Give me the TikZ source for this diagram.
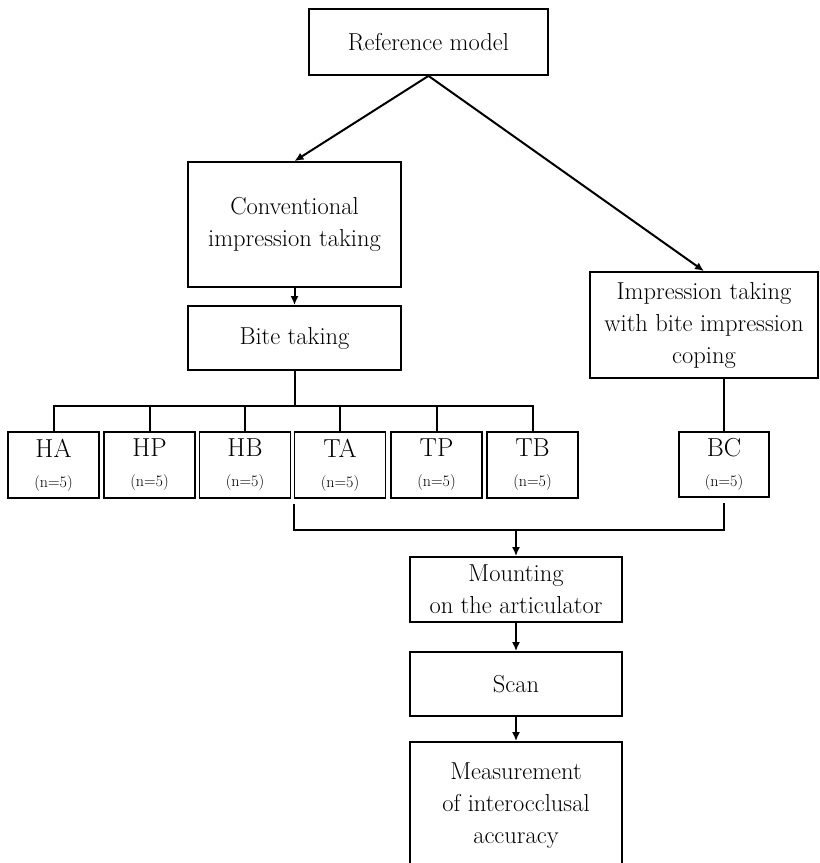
\documentclass[tikz,border=0pt]{standalone}
\usepackage{fontspec}
\usetikzlibrary{arrows.meta}
\begin{document}
\begin{tikzpicture}[x=1pt,y=-1pt,
  box/.style={draw, line width=1.8pt, inner sep=0pt, align=center, font=\fontsize{24.5}{32}\selectfont},
  small/.style={box, minimum width=91, minimum height=66},
  conn/.style={line width=2pt},
  arr/.style={conn, -{Latex[length=9pt,width=8pt]}}]
\useasboundingbox (0,0) rectangle (820,863);
\node[box, minimum width=239, minimum height=66] (ref) at (428.5,42) {Reference model};
\node[box, minimum width=213, minimum height=125] (conv) at (294.5,224.5) {Conventional\\impression taking};
\node[box, minimum width=213, minimum height=64] (bite) at (294.5,338) {Bite taking};
\node[box, minimum width=228, minimum height=106] (imp) at (704,325) {Impression taking\\with bite impression\\coping};
\newcommand{\grp}[1]{\fontsize{26}{28}\selectfont #1\\[-2pt]\fontsize{16}{18}\selectfont (n=5)}
\node[small] (ha) at (53.5,465) {\grp{HA}};
\node[small] (hp) at (149.5,465) {\grp{HP}};
\node[small] (hb) at (245,465) {\grp{HB}};
\node[small] (ta) at (340,465) {\grp{TA}};
\node[small] (tp) at (436.5,465) {\grp{TP}};
\node[small] (tb) at (532.5,465) {\grp{TB}};
\node[small, minimum width=90, minimum height=65] (bc) at (724,464.5) {\grp{BC}};
\node[box, minimum width=212, minimum height=65] (mount) at (516,589.5) {Mounting\\on the articulator};
\node[box, minimum width=212, minimum height=64] (scan) at (516,684) {Scan};
\node[box, minimum width=212, minimum height=128] (meas) at (516,806) {Measurement\\of interocclusal\\accuracy};
% connectors
\draw[arr] (ref.south) -- (conv.north);
\draw[arr] (ref.south) -- (imp.north);
\draw[arr] (conv.south) -- (bite.north);
\coordinate (bar) at (294.5,406);
\draw[conn] (bite.south) -- (bar);
\draw[conn] (ha.north) |- (bar) -| (tb.north);
\draw[conn] (hp.north) -- (hp.north |- bar);
\draw[conn] (hb.north) -- (hb.north |- bar);
\draw[conn] (ta.north) -- (ta.north |- bar);
\draw[conn] (tp.north) -- (tp.north |- bar);
\draw[conn] (bc.north |- imp.south) -- (bc.north);
\coordinate (join) at (516,530);
\draw[conn] ([yshift=-5pt]ta.south west) |- (join) -| ([yshift=-5pt]bc.south);
\draw[arr] (join) -- (mount.north);
\draw[arr] (mount.south) -- (scan.north);
\draw[arr] (scan.south) -- (meas.north);
\end{tikzpicture}
\end{document}
